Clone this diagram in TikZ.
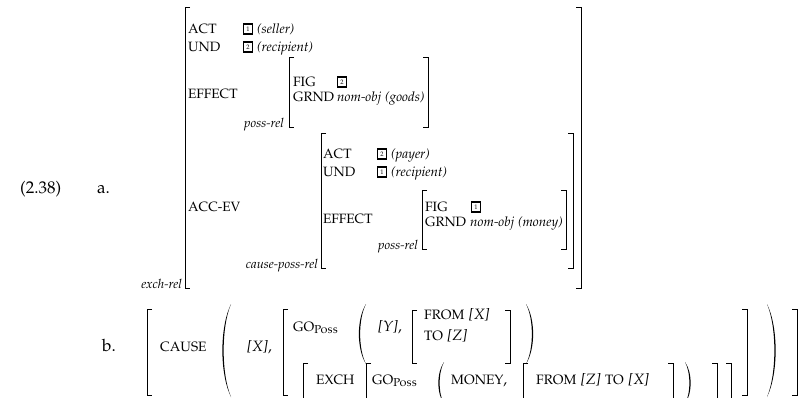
\documentclass[tikz,border=0pt]{standalone}
\usepackage[T1]{fontenc}
\usepackage[sc]{mathpazo}
\newcommand\fs{\fontsize{13.5}{16}\selectfont}
\newcommand\fsl{\fontsize{13.4}{16}\selectfont}
\newcommand\fb{\fontsize{15}{18}\selectfont}
\newcommand\fn{\fontsize{17}{20}\selectfont}
\newcommand\SC[1]{{\fontsize{13.6}{16}\selectfont #1}}
\tikzset{
 txt/.style={inner sep=0pt, anchor=base west, font=\fs},
 btx/.style={inner sep=0pt, anchor=base west, font=\fb},
 ntx/.style={inner sep=0pt, anchor=base west, font=\fn},
 itx/.style={inner sep=0pt, anchor=base west, font=\fsl\itshape},
 rlbl/.style={inner sep=0pt, anchor=base east, font=\fontsize{12.8}{15}\selectfont\itshape},
 tagbox/.style={draw, line width=1.3pt, inner sep=0pt, minimum width=9.5pt, minimum height=10pt, font=\fontsize{6.5}{7}\selectfont},
 brk/.style={line width=0.8pt},
}
\newcommand\LB[3]{\draw[brk] (#1+5,#2) -- (#1,#2) -- (#1,#3) -- (#1+5,#3);}
\newcommand\RB[3]{\draw[brk] (#1-5,#2) -- (#1,#2) -- (#1,#3) -- (#1-5,#3);}
\newcommand\LBo[3]{\draw[brk] (#1+5,#2) -- (#1,#2) -- (#1,#3);}
\newcommand\RBo[3]{\draw[brk] (#1-5,#2) -- (#1,#2) -- (#1,#3);}
% crescent parentheses: x, top, bottom, width
\newcommand\LP[4]{\fill (#1+#4,#2) .. controls (#1-0.5,#2+0.25*#3-0.25*#2) and (#1-0.5,#3-0.25*#3+0.25*#2) .. (#1+#4,#3)
  .. controls (#1+1.2,#3-0.25*#3+0.25*#2) and (#1+1.2,#2+0.25*#3-0.25*#2) .. cycle;}
\newcommand\RP[4]{\fill (#1-#4,#2) .. controls (#1+0.5,#2+0.25*#3-0.25*#2) and (#1+0.5,#3-0.25*#3+0.25*#2) .. (#1-#4,#3)
  .. controls (#1-1.2,#3-0.25*#3+0.25*#2) and (#1-1.2,#2+0.25*#3-0.25*#2) .. cycle;}
\begin{document}
\begin{tikzpicture}[x=1pt,y=-1pt]
\useasboundingbox (0,0) rectangle (808,397);
% ---------- (a) ----------
\node[ntx] (num) at (20,193) {(2.38)};
\node[ntx] (la) at (97,193) {a.};
% outer AVM
\LB{185}{7}{288}
\RB{581}{7}{288}
\node[rlbl] (exch) at (182,288) {exch-rel};
\node[txt] (act1) at (188,33) {ACT};
\node[txt] (und1) at (188,51) {UND};
\node[txt] (eff1) at (188,98) {EFFECT};
\node[txt] (acc) at (188,211) {ACC-EV};
\node[tagbox] (t11) at (248,29) {1};
\node[itx] (sel) at (257,33) {(seller)};
\node[tagbox] (t12) at (248,47) {2};
\node[itx] (rec1) at (257,51) {(recipient)};
% poss-rel (goods)
\LB{289}{57}{127}
\RB{428}{57}{127}
\node[rlbl] (pr1) at (284,127) {poss-rel};
\node[txt] (fig1) at (293,86) {FIG};
\node[txt] (grnd1) at (293,101) {GRND};
\node[tagbox] (t13) at (342,82) {2};
\node[itx] (goods) at (337,101) {nom-obj (goods)};
% cause-poss-rel
\LB{321}{133}{268}
\RB{573}{133}{268}
\node[rlbl] (cpr) at (318,268) {cause-poss-rel};
\node[txt] (act2) at (323,158) {ACT};
\node[txt] (und2) at (323,176) {UND};
\node[txt] (eff2) at (323,223) {EFFECT};
\node[tagbox] (t21) at (382,154) {2};
\node[itx] (pay) at (391,158) {(payer)};
\node[tagbox] (t22) at (382,172) {1};
\node[itx] (rec2) at (391,176) {(recipient)};
% poss-rel (money)
\LB{422}{190}{249}
\RB{566}{190}{249}
\node[rlbl] (pr2) at (418,249) {poss-rel};
\node[txt] (fig2) at (425,211) {FIG};
\node[txt] (grnd2) at (425,226) {GRND};
\node[tagbox] (t23) at (476,207) {1};
\node[itx] (money) at (470,226) {nom-obj (money)};
% ---------- (b) ----------
\node[ntx] (lb) at (102,351) {b.};
\LB{147}{309}{395}
\RB{797}{309}{395}
\node[btx] (cause) at (160,351) {\SC{CAUSE}};
\LP{220}{304}{397}{11}
\RP{778}{304}{397}{11}
\node[btx] (x1) at (247,351) {\textit{[X]},};
\LB{283}{309}{395}
\RB{747}{309}{395}
\node[btx] (go1) at (293,331) {\SC{GO}\textsubscript{\textsc{Poss}}};
\LP{357}{304}{364}{9}
\RP{535}{304}{364}{9}
\node[btx] (y1) at (378,331) {\textit{[Y]},};
\LB{412}{310}{363}
\RB{510}{310}{363}
\node[btx] (from1) at (424,319) {\SC{FROM} \textit{[X]}};
\node[btx] (to1) at (424,340) {\SC{TO} \textit{[Z]}};
% lower row
\LBo{303}{363}{400}
\RBo{731}{363}{400}
\node[btx] (exch2) at (316,384) {\SC{EXCH}};
\LBo{366}{363}{400}
\RBo{717}{363}{400}
\node[btx] (go2) at (372,384) {\SC{GO}\textsubscript{\textsc{Poss}}};
\LP{437}{362}{404}{7}
\RP{692}{362}{404}{7}
\node[btx] (mon) at (451,384) {\SC{MONEY},};
\LBo{523}{363}{400}
\RBo{673}{363}{400}
\node[btx] (from2) at (536,384) {\SC{FROM} \textit{[Z]} \SC{TO} \textit{[X]}};
\end{tikzpicture}
\end{document}
